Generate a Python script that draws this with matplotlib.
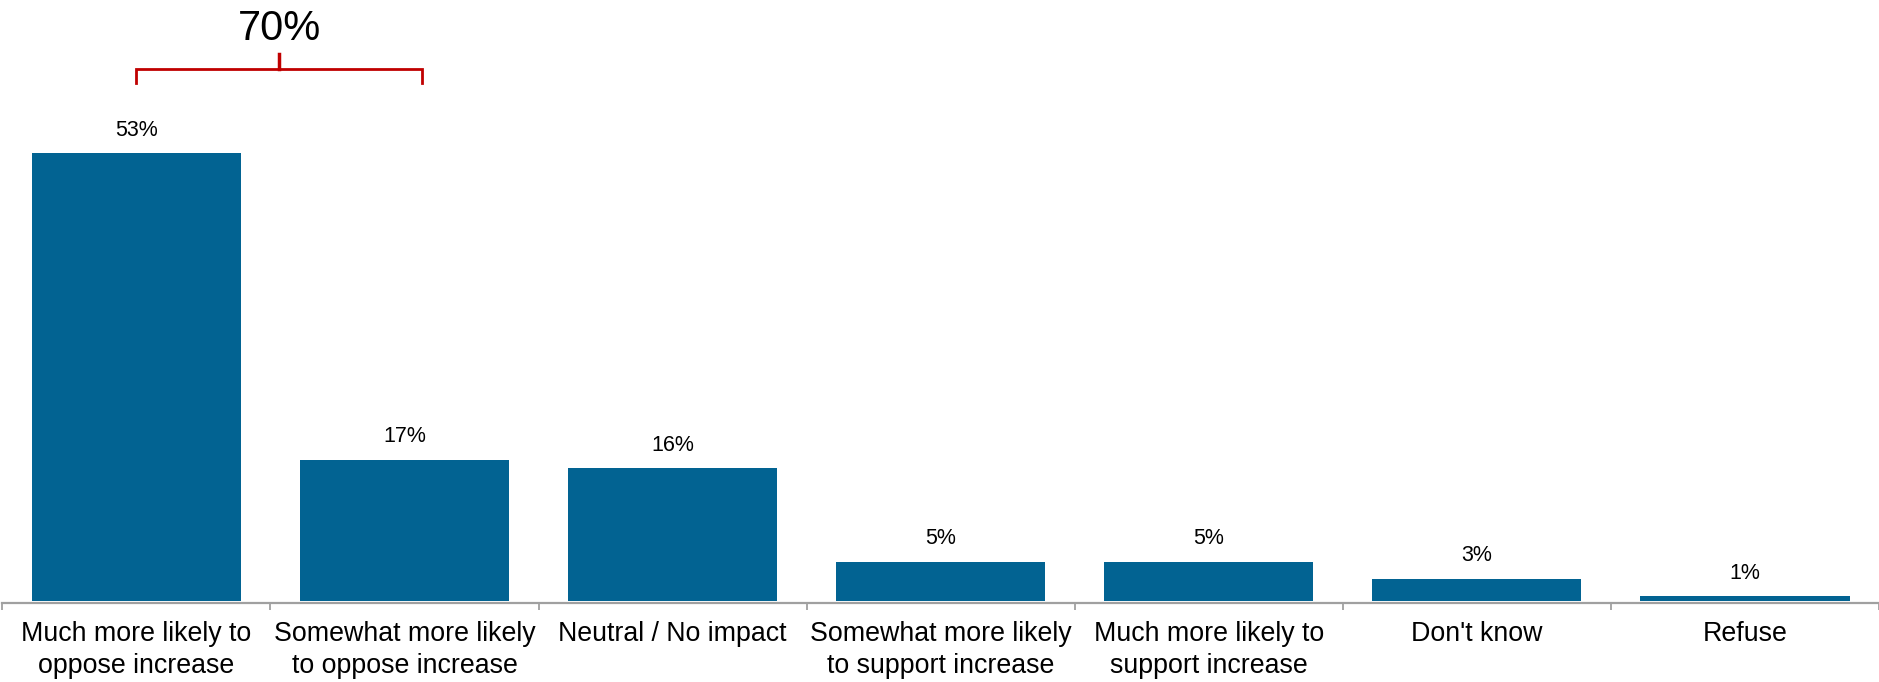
import matplotlib
matplotlib.use("Agg")
import matplotlib.pyplot as plt
import numpy as np

plt.rcParams['font.family'] = ['Liberation Sans', 'DejaVu Sans']

# data
categories = ["Much more likely to\noppose increase",
              "Somewhat more likely\nto oppose increase",
              "Neutral / No impact",
              "Somewhat more likely\nto support increase",
              "Much more likely to\nsupport increase",
              "Don't know",
              "Refuse"]
values = [53.0, 16.7, 15.7, 4.6, 4.6, 2.6, 0.5]
value_labels = ["53%", "17%", "16%", "5%", "5%", "3%", "1%"]
bracket_label = "70%"

bar_color = "#026392"
axis_color = "#a0a0a0"
red = "#c00000"

fig = plt.figure(figsize=(18.79, 6.82), dpi=100)
W, H = 1879, 682
ax = fig.add_axes([2.3 / W, (H - 603) / H, 1 - 2.3 / W, 603 / H])

x = np.arange(len(categories))
ax.bar(x, values, width=0.78, color=bar_color)

for xi, v, lab in zip(x, values, value_labels):
    ax.annotate(lab, (xi, v), xytext=(0, 12.5), textcoords="offset points",
                ha="center", va="baseline", fontsize=15.5, color="black")

ax.set_xlim(-0.5, -0.5 + (W - 2.3) / 268.6)
ax.set_ylim(-0.27, 71.09)

# bracket over first two bars
bl, br = x[0], x[1] + 0.065
bm = (bl + br) / 2
yh, ylo, ytop = 62.9, 61.3, 64.7
ax.plot([bl, bl, br, br], [ylo, yh, yh, ylo], color=red, lw=2, clip_on=False,
        solid_joinstyle="miter")
ax.plot([bm, bm], [yh, ytop], color=red, lw=2.5, clip_on=False)
ax.text(bm, 66.4, bracket_label, ha="center", va="baseline", fontsize=30,
        color="black")

# axes styling
for s in ["top", "right", "left"]:
    ax.spines[s].set_visible(False)
ax.spines["bottom"].set_color(axis_color)
ax.spines["bottom"].set_linewidth(1.6)
ax.set_yticks([])
ax.set_xticks(np.arange(len(categories) + 1) - 0.5)
ax.set_xticklabels([])
ax.tick_params(axis="x", which="major", length=5, width=1.3, color=axis_color,
               direction="out")
ax.set_xticks(x, minor=True)
ax.set_xticklabels(categories, minor=True, fontsize=19.3, linespacing=1.3)
ax.tick_params(axis="x", which="minor", length=0, pad=13)

fig.savefig("out.png", dpi=100)
